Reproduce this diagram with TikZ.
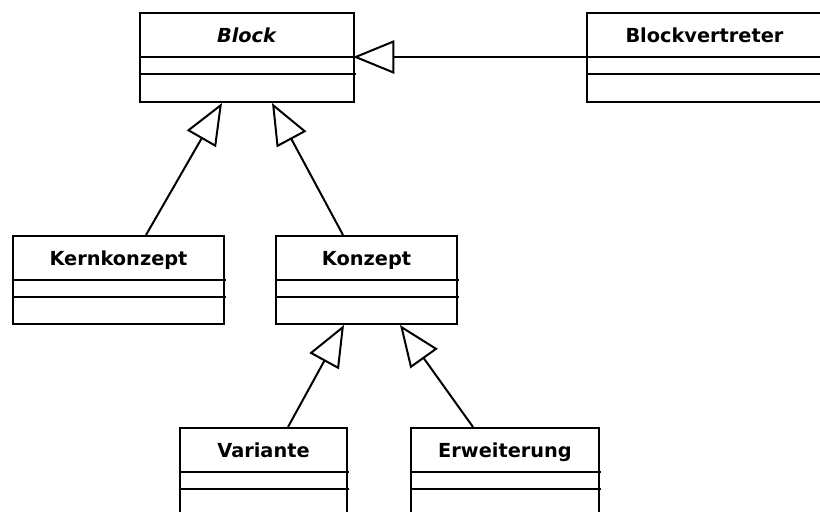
\documentclass[tikz,border=0pt]{standalone}
\usepackage{fontspec}
\setmainfont{DejaVu Sans}
\usetikzlibrary{arrows.meta,calc}

% one unit = one pixel of the 820 x 511 canvas, y growing downwards
\tikzset{
  x=0.75pt, y=-0.75pt,
  line/.style={line width=1.5pt, black},
  classbox/.style={line, draw, fill=white, rectangle, inner sep=0pt, anchor=north west},
  classname/.style={font=\fontsize{14.5}{17}\selectfont\bfseries, inner sep=0pt, anchor=base},
  inherits/.style={line, -{Triangle[open, length=31pt, width=25pt, line width=1.5pt]}},
}

% \umlclass{name}{x}{y}{width px}{height px}{label}
\newcommand{\umlclass}[6]{%
  \node[classbox, minimum width=#4*0.75pt, minimum height=#5*0.75pt] (#1) at (#2,#3) {};
  \node[classname] (#1-name) at ($(#1.north)+(0,30)$) {#6};
  \draw[line] ($(#1.north west)+(0,45)$) -- ++(#4+3,0);
  \draw[line] ($(#1.north west)+(0,62)$) -- ++(#4+3,0);
}

\begin{document}
\begin{tikzpicture}
  \useasboundingbox (0,0) rectangle (820,511);
  \clip (0,0) rectangle (820,511);

  \umlclass{block}{139}{12}{214}{89}{\textit{Block}}
  \umlclass{vertreter}{586}{12}{235}{89}{Blockvertreter}
  \umlclass{kern}{12}{235}{211}{88}{Kernkonzept}
  \umlclass{konzept}{275}{235}{181}{88}{Konzept}
  \umlclass{variante}{179}{427}{167}{100}{Variante}
  \umlclass{erweiterung}{410}{427}{188}{100}{Erweiterung}

  % attachment points on the box edges
  \coordinate (vt-a) at ($(vertreter.north west)+(0,45)$);
  \coordinate (bl-a) at ($(block.north west)+(214,45)$);
  \coordinate (bl-b1) at ($(block.south)+(-25,0)$);
  \coordinate (bl-b2) at ($(block.south)+(25,0)$);
  \coordinate (ke-t) at ($(kern.north)+(27.5,0)$);
  \coordinate (ko-t) at ($(konzept.north)+(-23.5,0)$);
  \coordinate (ko-b1) at ($(konzept.south)+(-22.5,0)$);
  \coordinate (ko-b2) at ($(konzept.south)+(33.5,0)$);
  \coordinate (va-t) at ($(variante.north)+(24.5,0)$);
  \coordinate (er-t) at ($(erweiterung.north)+(-32,0)$);

  % generalisations
  \draw[inherits] (vt-a) -- (bl-a);
  \draw[inherits] (ke-t) -- (bl-b1);
  \draw[inherits] (ko-t) -- (bl-b2);
  \draw[inherits] (va-t) -- (ko-b1);
  \draw[inherits] (er-t) -- (ko-b2);
\end{tikzpicture}
\end{document}
